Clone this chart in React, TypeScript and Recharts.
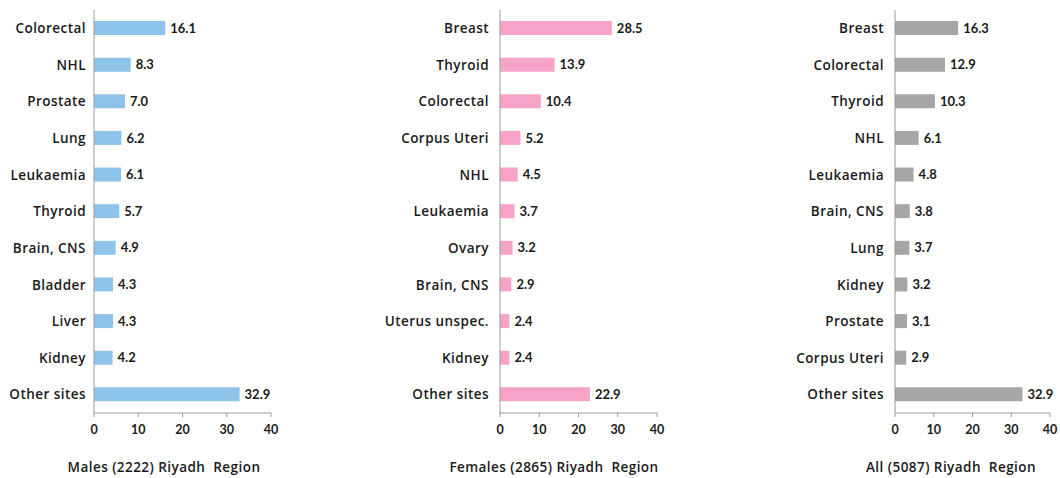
import React from 'react';
import { BarChart, Bar, XAxis, YAxis, LabelList } from 'recharts';

const maleSites = ['Colorectal', 'NHL', 'Prostate', 'Lung', 'Leukaemia', 'Thyroid', 'Brain, CNS', 'Bladder', 'Liver', 'Kidney', 'Other sites'];
const maleValues = [16.1, 8.3, 7.0, 6.2, 6.1, 5.7, 4.9, 4.3, 4.3, 4.2, 32.9];

const femaleSites = ['Breast', 'Thyroid', 'Colorectal', 'Corpus Uteri', 'NHL', 'Leukaemia', 'Ovary', 'Brain, CNS', 'Uterus unspec.', 'Kidney', 'Other sites'];
const femaleValues = [28.5, 13.9, 10.4, 5.2, 4.5, 3.7, 3.2, 2.9, 2.4, 2.4, 22.9];

const allSites = ['Breast', 'Colorectal', 'Thyroid', 'NHL', 'Leukaemia', 'Brain, CNS', 'Lung', 'Kidney', 'Prostate', 'Corpus Uteri', 'Other sites'];
const allValues = [16.3, 12.9, 10.3, 6.1, 4.8, 3.8, 3.7, 3.2, 3.1, 2.9, 32.9];

const xTicks = [0, 10, 20, 30, 40];

const titles = ['Males (2222) Riyadh  Region', 'Females (2865) Riyadh  Region', 'All (5087) Riyadh  Region'];

const toRows = (sites: string[], values: number[]) =>
    sites.map((site, i) => ({ site, value: values[i] }));

type PanelProps = {
    rows: { site: string; value: number }[];
    color: string;
    left: number;
    width: number;
    yWidth: number;
    right: number;
    gap: number;
};

const Panel = ({ rows, color, left, width, yWidth, right, gap }: PanelProps) => (
    <div style={{ position: 'absolute', left, top: 0 }}>
        <BarChart
            width={width}
            height={450}
            data={rows}
            layout="vertical"
            margin={{ top: 10, right, left: 0, bottom: 0 }}
        >
            <XAxis
                type="number"
                domain={[0, 40]}
                ticks={xTicks}
                height={37}
                stroke="#9a9a9a"
                tickSize={4}
                tickMargin={8}
                tick={{ fill: '#1a1a1a', fontSize: 12.5, fontWeight: 700, fontFamily: 'Lato' }}
            />
            <YAxis
                type="category"
                dataKey="site"
                width={yWidth}
                stroke="#9a9a9a"
                tickLine={false}
                tickMargin={gap}
                interval={0}
                tick={{ fill: '#1a1a1a', fontSize: 13.5, fontWeight: 600, fontFamily: 'Open Sans', letterSpacing: 0.45 }}
            />
            <Bar dataKey="value" fill={color} barSize={14} isAnimationActive={false}>
                <LabelList
                    dataKey="value"
                    position="right"
                    offset={5}
                    formatter={(v: any) => Number(v).toFixed(1)}
                    style={{ fill: '#1a1a1a', fontSize: 13, fontWeight: 700, fontFamily: 'Lato' }}
                />
            </Bar>
        </BarChart>
    </div>
);

const titleCenters = [164, 554, 951];

export default function App() {
    return (
        <div style={{ position: 'absolute', left: 0, top: 0, width: 1060, height: 478, background: '#fff' }}>
            <Panel rows={toRows(maleSites, maleValues)} color="#8EC3EA" left={0} width={300} yWidth={94} right={29} gap={2} />
            <Panel rows={toRows(femaleSites, femaleValues)} color="#F5A3C7" left={380} width={300} yWidth={120} right={23} gap={5} />
            <Panel rows={toRows(allSites, allValues)} color="#A6A6A6" left={770} width={290} yWidth={125} right={10} gap={5} />
            {titles.map((t, i) => (
                <div
                    key={t}
                    style={{
                        position: 'absolute',
                        left: titleCenters[i] - 150,
                        width: 300,
                        top: 458,
                        textAlign: 'center',
                        fontFamily: 'Open Sans',
                        fontWeight: 600,
                        fontSize: 13.5,
                        letterSpacing: 0.45,
                        color: '#1a1a1a',
                        whiteSpace: 'pre',
                    }}
                >
                    {t}
                </div>
            ))}
        </div>
    );
}
